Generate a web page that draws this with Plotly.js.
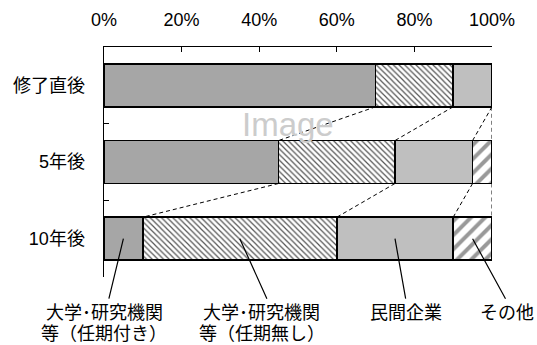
<!DOCTYPE html>
<html>
<head>
<meta charset="utf-8">
<script src="https://cdn.plot.ly/plotly-3.0.1.min.js"></script>
<style>
  html, body { margin: 0; padding: 0; background: #fff; }
  #chart { width: 537px; height: 345px; }
</style>
</head>
<body>
<div id="chart"></div>
<script>
// Career stages (rows) and share of each employment type (%)
const categories = ['修了直後', '5年後', '10年後'];
const seriesNames = [
  '大学･研究機関<br>等（任期付き）',
  '大学･研究機関<br>等（任期無し）',
  '民間企業',
  'その他'
];
const fixedTerm     = [70, 45, 10];
const permanent     = [20, 30, 50];
const privateSector = [10, 20, 30];
const other         = [0, 5, 10];
const xTickVals  = [0, 20, 40, 60, 80, 100];
const xTickTexts = ['0%', '20%', '40%', '60%', '80%', '100%'];

const series = [fixedTerm, permanent, privateSector, other];
const FONT = '"Liberation Sans", Arial, "Noto Sans CJK JP", sans-serif';
const BAR_WIDTH = 0.56;

const outline = { color: '#000', width: 1.5 };
const markers = [
  { color: '#a6a6a6', line: outline },
  { color: '#ffffff', line: outline,
    pattern: { shape: '\\', fgcolor: '#555555', bgcolor: '#ffffff', size: 4, solidity: 0.3 } },
  { color: '#bfbfbf', line: outline },
  { color: '#ffffff', line: outline,
    pattern: { shape: '/', fgcolor: '#999999', bgcolor: '#ffffff', size: 10, solidity: 0.4 } }
];

const traces = series.map((vals, i) => ({
  type: 'bar',
  orientation: 'h',
  y: categories,
  x: vals,
  name: seriesNames[i].replace('<br>', ''),
  marker: markers[i],
  width: BAR_WIDTH,
  hoverinfo: 'skip'
}));

// cumulative right edges of each segment per row
const cumulative = categories.map((_, r) => {
  let s = 0;
  return series.map(v => (s += v[r]));
});

// dashed guides joining matching segment edges of neighbouring rows
const shapes = [];
for (let r = 0; r < categories.length - 1; r++) {
  for (let k = 0; k < series.length; k++) {
    shapes.push({
      type: 'line', xref: 'x', yref: 'y',
      x0: cumulative[r][k], y0: r + BAR_WIDTH / 2,
      x1: cumulative[r + 1][k], y1: r + 1 - BAR_WIDTH / 2,
      line: { color: '#000', width: 1, dash: '4px,3px' }
    });
  }
}

// leader lines and labels below the last row
const lastRow = categories.length - 1;
const leaderOffsets = [[-15, 62], [28, 62], [11, 62], [34, 62]];
const labelShifts = [-19, 22, 11, 34];
const lineShifts = [-74, -95];
const annotations = [];
let start = 0;
series.forEach((vals, k) => {
  const mid = start + vals[lastRow] / 2;
  start += vals[lastRow];
  annotations.push({
    x: mid, y: lastRow, xref: 'x', yref: 'y',
    text: ' ', font: { size: 1 },
    showarrow: true, arrowhead: 0, arrowwidth: 1.2, arrowcolor: '#000',
    ax: leaderOffsets[k][0], ay: leaderOffsets[k][1]
  });
  seriesNames[k].split('<br>').forEach((line, j) => {
    annotations.push({
      x: mid, y: lastRow, xref: 'x', yref: 'y',
      text: line, showarrow: false, borderpad: 0,
      xanchor: 'center', yanchor: 'middle',
      xshift: labelShifts[k], yshift: lineShifts[j],
      font: { family: FONT, size: 18, color: '#000' }
    });
  });
});
annotations.push({
  x: 0.4745, y: 0.665, xref: 'paper', yref: 'paper',
  text: 'Image', showarrow: false,
  font: { family: FONT, size: 33, color: '#cccccc' }
});

const layout = {
  width: 537, height: 345,
  margin: { l: 103.5, r: 44.7, t: 46.7, b: 68.3 },
  paper_bgcolor: '#ffffff', plot_bgcolor: '#ffffff',
  barmode: 'stack',
  showlegend: false,
  font: { family: FONT, size: 18, color: '#000' },
  xaxis: {
    side: 'top', range: [0, 100], fixedrange: true,
    tickvals: xTickVals, ticktext: xTickTexts,
    ticks: 'inside', ticklen: 5, tickwidth: 1, tickcolor: '#000',
    showline: true, linecolor: '#000', linewidth: 1.5,
    showgrid: false, zeroline: false,
    ticklabelstandoff: 12,
    tickfont: { family: FONT, size: 18, color: '#000' }
  },
  yaxis: {
    type: 'category', range: [2.5, -0.5], fixedrange: true,
    ticks: 'inside', tickson: 'boundaries', ticklen: 5, tickwidth: 1, tickcolor: '#000',
    showline: true, linecolor: '#000', linewidth: 1.5,
    showgrid: false, zeroline: false,
    ticklabelstandoff: 14,
    tickfont: { family: FONT, size: 18, color: '#000' }
  },
  shapes: shapes,
  annotations: annotations
};

Plotly.newPlot('chart', traces, layout, { displayModeBar: false, staticPlot: true });
</script>
</body>
</html>
